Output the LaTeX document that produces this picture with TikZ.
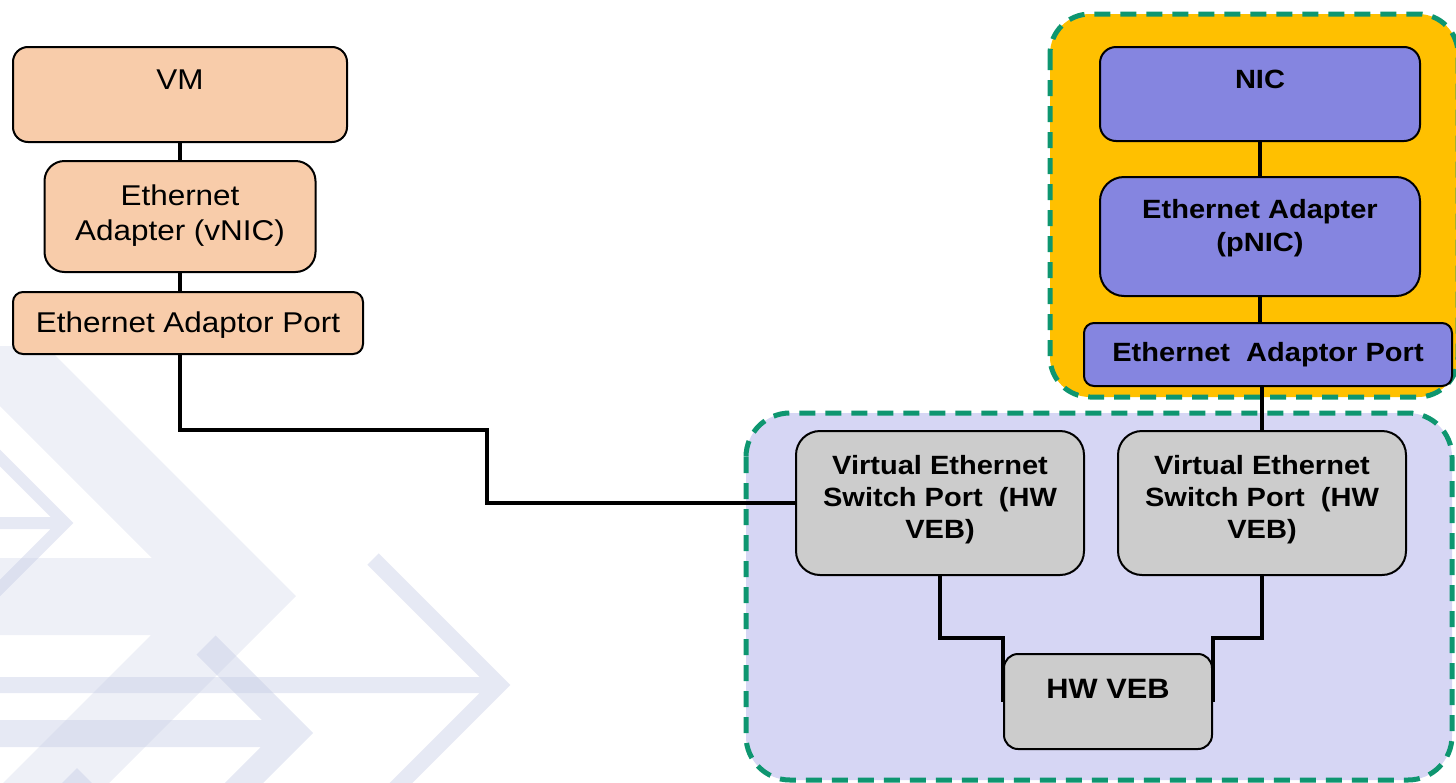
\documentclass[tikz,border=0pt]{standalone}
\usepackage{fontspec}
\setmainfont{Liberation Sans}[FakeStretch=1.1]
\usepackage{tikz}
\usetikzlibrary{positioning,calc}

\definecolor{vmpeach}{RGB}{248,204,170}
\definecolor{nicblue}{RGB}{133,133,224}
\definecolor{vebgray}{RGB}{204,204,204}
\definecolor{hostorange}{RGB}{255,192,0}
\definecolor{veblav}{RGB}{214,214,244}
\definecolor{dashgreen}{RGB}{14,150,112}
\definecolor{wmblue}{RGB}{190,198,225}

\begin{document}
\begin{tikzpicture}[x=0.5pt,y=-0.5pt,
		vmbox/.style={draw, line width=1pt, fill=vmpeach, align=center, inner ysep=0pt,
			font=\fontsize{14.3}{17.5}\selectfont},
		nicbox/.style={draw, line width=1pt, fill=nicblue, align=center, inner ysep=0pt,
			font=\fontsize{13.2}{16.5}\selectfont\bfseries},
		vebbox/.style={draw, line width=1pt, fill=vebgray, align=center, inner ysep=0pt,
			font=\fontsize{13.2}{16}\selectfont\bfseries},
		group/.style={line width=2.5pt, draw=dashgreen, dash pattern=on 8pt off 5pt},
		wire/.style={line width=2pt},
		wmfill/.style={fill=wmblue, fill opacity=0.26},
		wmline/.style={draw=wmblue, draw opacity=0.38, line join=miter}]

		\useasboundingbox (0,0) rectangle (1456,782);

		\begin{scope}
			\clip (0,0) rectangle (1456,782);
			\fill[wmfill] (0,558) -- (152,558) -- (-60,346) -- (46,346) -- (296,596)
				-- (46,846) -- (-60,846) -- (151,635) -- (0,635) -- cycle;
			\draw[wmline, line width=6pt] (-35,423) -- (65,523) -- (-35,623) (0,523) -- (62,523);
			\draw[wmline, line width=13.5pt] (206,645) -- (294,733) -- (194,833) (0,733.5) -- (288,733.5);
			\draw[wmline, line width=8pt] (373,559) -- (499,685) -- (349,835) (0,685) -- (494,685);
			\fill[wmblue, fill opacity=0.38] (60,785) -- (77,768) -- (94,785) -- cycle;
		\end{scope}

		\draw[group, fill=hostorange, rounded corners=20pt] (1050,14) rectangle (1458,397);
		\draw[group, fill=veblav, rounded corners=22pt] (746,413) rectangle (1452,780);

		\node[vmbox,
			anchor=north west,
			rounded corners=7.5pt,
			minimum width=167pt,
			text height=21pt,
			text depth=26.5pt
		] (vm) at (12,46) {VM};

		\node[vmbox,
			below=8.5pt of vm,
			rounded corners=10pt,
			minimum width=135.5pt,
			text height=39.5pt,
			text depth=16pt
		] (vnic) {Ethernet\\Adapter (vNIC)};

		\node[vmbox,
			below=9pt of vnic,
			xshift=4pt,
			rounded corners=5pt,
			minimum width=175pt,
			text height=20pt,
			text depth=11pt
		] (portl) {Ethernet Adaptor Port};

		\node[nicbox,
			anchor=north west,
			rounded corners=8pt,
			minimum width=160pt,
			text height=20.5pt,
			text depth=26.5pt
		] (nic) at (1099,46) {NIC};

		\node[nicbox,
			below=17pt of nic,
			rounded corners=12pt,
			minimum width=160pt,
			text height=37pt,
			text depth=22.5pt
		] (pnic) {Ethernet Adapter\\(pNIC)};

		\node[nicbox,
			below=12.5pt of pnic,
			xshift=4pt,
			rounded corners=5pt,
			minimum width=184pt,
			text height=19pt,
			text depth=12.5pt
		] (portr) {Ethernet\ \ Adaptor Port};

		\node[vebbox,
			anchor=north west,
			rounded corners=12pt,
			minimum width=144pt,
			text height=53.5pt,
			text depth=18.5pt
		] (vespl) at (795,430) {Virtual Ethernet\\Switch Port\ \ (HW\\VEB)};

		\node[vebbox,
			right=16pt of vespl,
			rounded corners=12pt,
			minimum width=144pt,
			text height=53.5pt,
			text depth=18.5pt
		] (vespr) {Virtual Ethernet\\Switch Port\ \ (HW\\VEB)};

		\node[vebbox,
			anchor=north west,
			rounded corners=7pt,
			minimum width=104pt,
			text height=22pt,
			text depth=25.5pt,
			font=\fontsize{14}{16}\selectfont\bfseries
		] (hwveb) at (1003,653) {HW VEB};

		\coordinate (jog) at (487,430);

		\draw[wire] (vm) -- (vnic);
		\draw[wire] (vnic) -- (vnic |- portl.north);
		\draw[wire] (vnic |- portl.south) |- (jog) |- (vespl.west);
		\draw[wire] (nic) -- (pnic);
		\draw[wire] (pnic) -- (pnic |- portr.north);
		\draw[wire] (vespr |- portr.south) -- (vespr);
		\draw[wire] (vespl.south) -- ++(0,62) -| (hwveb.west);
		\draw[wire] (vespr.south) -- ++(0,62) -| (hwveb.east);

	\end{tikzpicture}
\end{document}
